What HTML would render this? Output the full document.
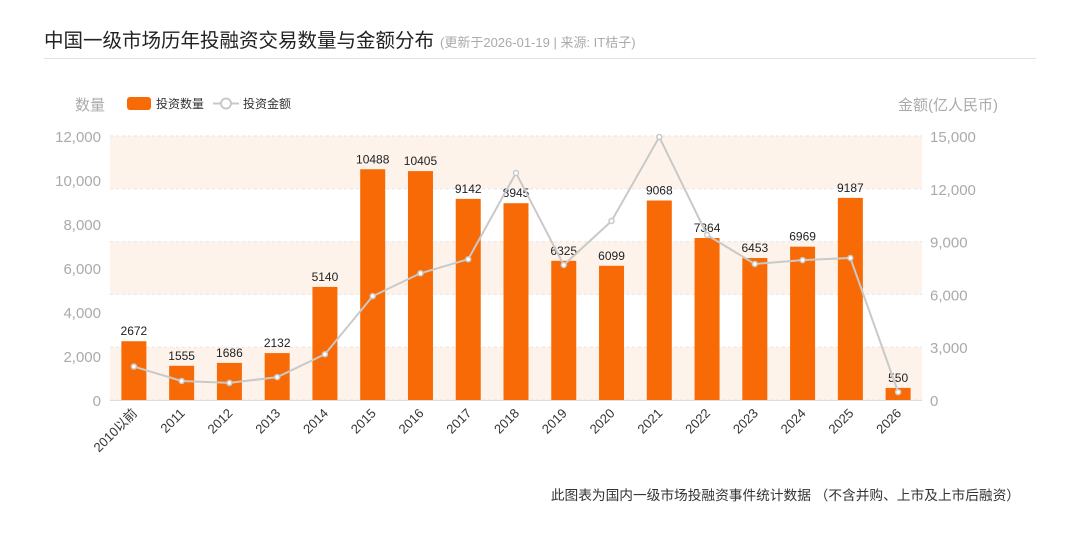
<!DOCTYPE html>
<html><head><meta charset="utf-8"><style>
body{margin:0;background:#fff;width:1080px;height:536px;overflow:hidden;font-family:"Liberation Sans","Noto Sans CJK SC",sans-serif}
svg{position:absolute;left:0;top:0}
</style></head><body>
<svg width="1080" height="536" font-family="Liberation Sans, Noto Sans CJK SC, sans-serif">
<text x="44" y="47" font-size="19.5" fill="#222">中国一级市场历年投融资交易数量与金额分布<tspan font-size="13" fill="#aaa" dx="6">(更新于2026-01-19 | 来源: IT桔子)</tspan></text>
<line x1="44" y1="58.5" x2="1036" y2="58.5" stroke="#e3e3e3"/>
<text x="75" y="110" font-size="15" fill="#aaa">数量</text>
<text x="998" y="110" font-size="15" fill="#aaa" text-anchor="end">金额(亿人民币)</text>
<g>
<rect x="127" y="97" width="24" height="13" rx="3" fill="#f76a05"/>
<text x="156" y="108" font-size="12" fill="#333">投资数量</text>
<line x1="213" y1="103.5" x2="239" y2="103.5" stroke="#c9c9c9" stroke-width="2"/>
<circle cx="226" cy="103.5" r="5" fill="#fff" stroke="#c9c9c9" stroke-width="2"/>
<text x="243" y="108" font-size="12" fill="#333">投资金额</text>
</g>
<g id="plot"></g>
<text x="1020" y="500" font-size="13.7" fill="#333" text-anchor="end">此图表为国内一级市场投融资事件统计数据 （不含并购、上市及上市后融资）</text>
</svg>
<script>
const categories=["2010以前","2011","2012","2013","2014","2015","2016","2017","2018","2019","2020","2021","2022","2023","2024","2025","2026"];
const counts=[2672,1555,1686,2132,5140,10488,10405,9142,8945,6325,6099,9068,7364,6453,6969,9187,550];
const amounts=[1900,1080,970,1300,2600,5900,7200,8000,12900,7670,10170,14940,9375,7730,7950,8070,450];
const leftTicks=[0,2000,4000,6000,8000,10000,12000];
const rightTicks=[0,3000,6000,9000,12000,15000];
const NS="http://www.w3.org/2000/svg";
const g=document.getElementById("plot");
const X0=110,X1=922,Y0=400,Y1=136;
const step=(X1-X0)/categories.length;
const xC=i=>X0+step*(i+0.5);
const yL=v=>Y0-(v/12000)*(Y0-Y1);
const yR=v=>Y0-(v/15000)*(Y0-Y1);
function el(t,a){const e=document.createElementNS(NS,t);for(const k in a)e.setAttribute(k,a[k]);g.appendChild(e);return e;}
for(let i=0;i<rightTicks.length-1;i+=2){
 const b=el("rect",{x:X0,y:yR(rightTicks[i+1]),width:X1-X0,height:yR(rightTicks[i])-yR(rightTicks[i+1]),fill:"#fdf3ea"});
 
 
}
rightTicks.forEach(v=>{
 const l=el("line",{x1:X0,x2:X1,y1:yR(v),y2:yR(v),stroke:"#e6e6e6","stroke-dasharray":"3,3"});
 
 
 const t=el("text",{x:930,y:yR(v)+6,"font-size":15,fill:"#aaa"});t.textContent=v.toLocaleString("en-US");
 
 
});
leftTicks.forEach(v=>{
 const t=el("text",{x:101,y:yL(v)+6,"font-size":15,fill:"#aaa","text-anchor":"end"});t.textContent=v.toLocaleString("en-US");
 
 
});
const ax=el("line",{x1:X0,x2:X1,y1:Y0+0.5,y2:Y0+0.5,stroke:"#ddd"});


categories.forEach((c,i)=>{
 const cx=xC(i);
 const r=el("rect",{x:cx-12.5,y:yL(counts[i]),width:25,height:Y0-yL(counts[i]),fill:"#f76a05"});
 
 
 const t=el("text",{x:cx,y:yL(counts[i])-6,"font-size":12,fill:"#222","text-anchor":"middle"});t.textContent=counts[i];
 
 
 const xl=el("text",{x:cx+4,y:Y0+14,"font-size":13,fill:"#333","text-anchor":"end",transform:`rotate(-45 ${cx+4} ${Y0+14})`});xl.textContent=c;
 
 
});
const line=el("polyline",{points:amounts.map((v,i)=>xC(i)+","+yR(v)).join(" "),fill:"none",stroke:"#c9c9c9","stroke-width":2});


amounts.forEach((v,i)=>{
 const p=el("circle",{cx:xC(i),cy:yR(v),r:2.5,fill:"#fff",stroke:"#c9c9c9","stroke-width":1.5});
 
 
});
</script>
</body></html>
